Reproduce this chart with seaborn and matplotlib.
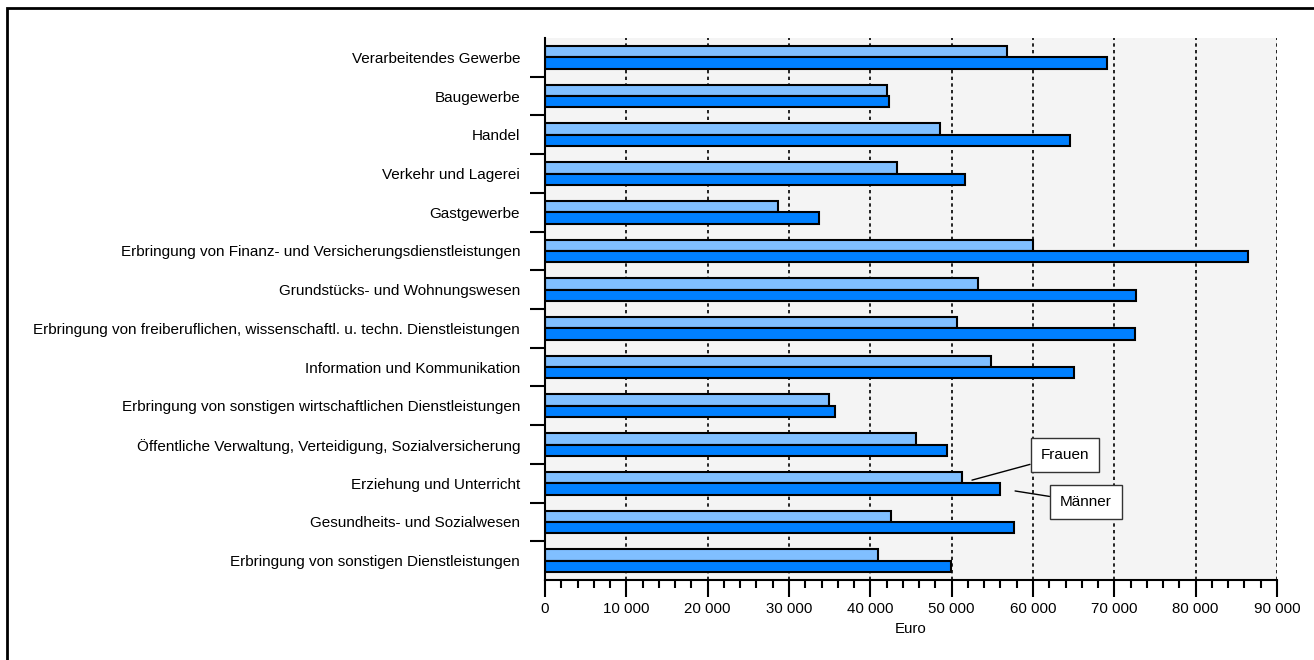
import pandas as pd
import numpy as np
import matplotlib
matplotlib.use('Agg')
import matplotlib.pyplot as plt
import matplotlib.ticker as mticker
import seaborn as sns

# branches (top to bottom) and annual gross earnings in Euro
branches = [
    'Verarbeitendes Gewerbe',
    'Baugewerbe',
    'Handel',
    'Verkehr und Lagerei',
    'Gastgewerbe',
    'Erbringung von Finanz- und Versicherungsdienstleistungen',
    'Grundstücks- und Wohnungswesen',
    'Erbringung von freiberuflichen, wissenschaftl. u. techn. Dienstleistungen',
    'Information und Kommunikation',
    'Erbringung von sonstigen wirtschaftlichen Dienstleistungen',
    'Öffentliche Verwaltung, Verteidigung, Sozialversicherung',
    'Erziehung und Unterricht',
    'Gesundheits- und Sozialwesen',
    'Erbringung von sonstigen Dienstleistungen',
]
frauen = [56800, 42100, 48600, 43300, 28700, 60000, 53200, 50600, 54800, 34900, 45600, 51300, 42500, 41000]
maenner = [69100, 42300, 64600, 51700, 33700, 86500, 72700, 72600, 65100, 35600, 49400, 55900, 57700, 49900]

df = pd.DataFrame({
    'Branche': branches * 2,
    'Euro': frauen + maenner,
    'Geschlecht': ['Frauen'] * len(branches) + ['Männer'] * len(branches),
})

sns.set_style('white')
plt.rcParams['font.family'] = ['Liberation Sans', 'DejaVu Sans']
plt.rcParams['text.color'] = 'black'
plt.rcParams['axes.labelcolor'] = 'black'
plt.rcParams['xtick.color'] = 'black'
plt.rcParams['ytick.color'] = 'black'

fig = plt.figure(figsize=(13.14, 6.6), dpi=100)
ax = fig.add_axes([0.4148, 0.1212, 0.5570, 0.8212])
ax.set_facecolor('#f4f4f4')

sns.barplot(data=df, y='Branche', x='Euro', hue='Geschlecht', orient='h',
            palette=['#80bfff', '#0080ff'], saturation=1, edgecolor='black', linewidth=1.5,
            width=0.585, ax=ax, legend=False)

# axes
ax.set_xlim(0, 90000)
ax.set_ylim(len(branches) - 0.5, -0.5)
ax.xaxis.set_major_locator(mticker.MultipleLocator(10000))
ax.xaxis.set_minor_locator(mticker.MultipleLocator(2000))
ax.xaxis.set_major_formatter(mticker.FuncFormatter(lambda v, p: f'{int(v):,}'.replace(',', ' ')))
ax.set_yticks(range(len(branches)))
ax.set_yticks(np.arange(0.5, len(branches) - 0.5, 1), minor=True)
ax.set_yticklabels(branches)

ax.tick_params(axis='x', which='both', bottom=True)
ax.tick_params(axis='y', which='both', left=True)
ax.tick_params(axis='x', which='major', direction='out', length=12, width=1.5, labelsize=10.8, pad=4)
ax.tick_params(axis='x', which='minor', direction='out', length=6, width=1.5)
ax.tick_params(axis='y', which='major', length=0, labelsize=11, pad=18)
ax.tick_params(axis='y', which='minor', direction='out', length=11, width=1.5)

ax.xaxis.grid(True, which='major', color='black', linestyle=(0, (2, 2)), linewidth=1.2)
ax.set_axisbelow(True)

for s in ['top', 'right']:
    ax.spines[s].set_visible(False)
for s in ['left', 'bottom']:
    ax.spines[s].set_color('black')
    ax.spines[s].set_linewidth(1.5)

ax.set_xlabel('Euro', fontsize=10.8, labelpad=4)
ax.set_ylabel('')

# callout labels
box = dict(boxstyle='square,pad=0.65', facecolor='white', edgecolor='#333333', linewidth=1)
ax.annotate('Frauen', xy=(52500, 10.92), xytext=(63900, 10.27), fontsize=11,
            ha='center', va='center', bbox=box,
            arrowprops=dict(arrowstyle='-', color='black', linewidth=1, shrinkA=0, shrinkB=0))
ax.annotate('Männer', xy=(57800, 11.2), xytext=(66500, 11.49), fontsize=11,
            ha='center', va='center', bbox=box,
            arrowprops=dict(arrowstyle='-', color='black', linewidth=1, shrinkA=0, shrinkB=0))

# outer frame (runs past the right and bottom edge)
fig.add_artist(plt.Rectangle((7 / 1314, -0.1), 1.2, 1 - 8 / 660 + 0.1, transform=fig.transFigure,
                             fill=False, edgecolor='black', linewidth=2))

plt.savefig('out.png', dpi=100)
